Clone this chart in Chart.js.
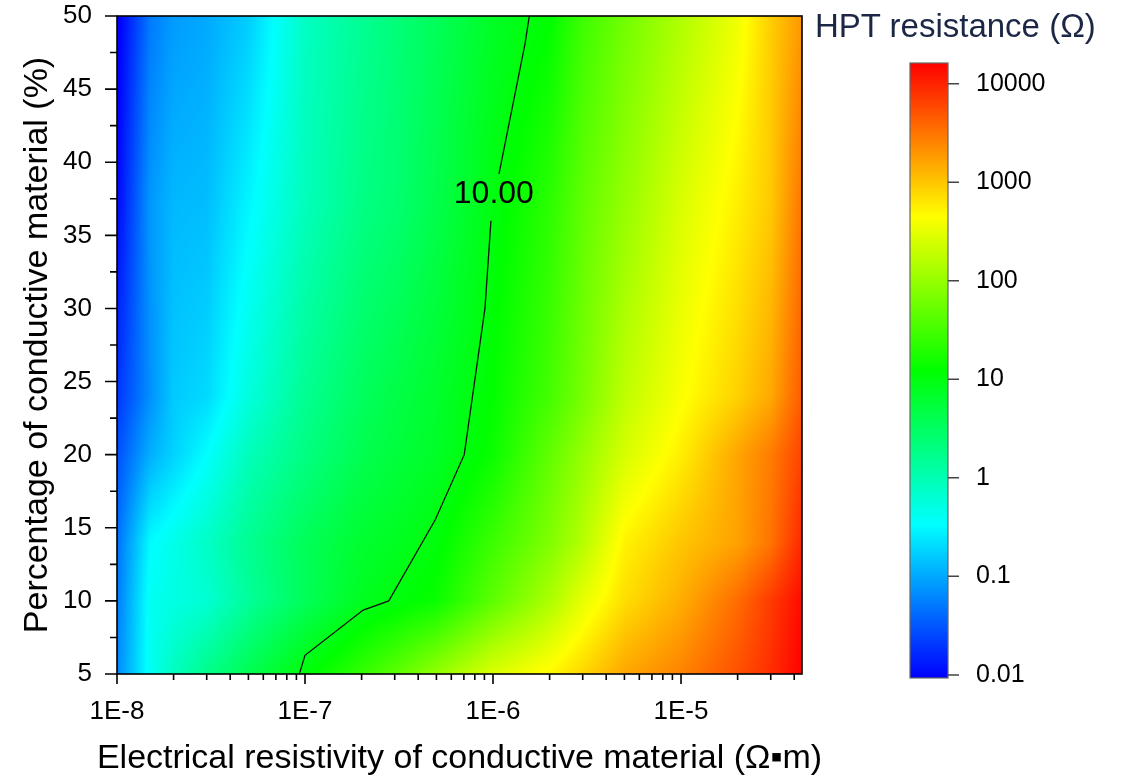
<!DOCTYPE html>
<html><head><meta charset="utf-8">
<script src="https://cdn.jsdelivr.net/npm/chart.js@4.4.1/dist/chart.umd.min.js"></script>
<style>
html,body{margin:0;padding:0;background:#fff;width:1123px;height:779px;overflow:hidden}
#main{position:absolute;left:0;top:0;width:880px;height:779px}
#cb{position:absolute;left:805px;top:0;width:318px;height:779px}
#cbTitle{position:absolute;left:815px;top:7px;font:33px 'Liberation Sans',Arial,sans-serif;color:#1b2745;white-space:nowrap}
</style></head><body>
<canvas id="main" width="880" height="779"></canvas>
<canvas id="cb" width="318" height="779"></canvas>
<div id="cbTitle">HPT resistance (Ω)</div>
<script>
// ---- data ----
const resistivity = [1e-8,1.5e-8,2e-8,3e-8,5e-8,1e-7,2e-7,3e-7,5e-7,1e-6,2e-6,3e-6,5e-6,1e-5,2e-5,3e-5,4.4e-5];
const percentage = [5,10,14,20,24,37,50];
const res_p5  = [0.063,0.40,0.83,1.78,3.98,10.7,25,44,98,275,500,795,1550,2570,5250,8500,16200];
const res_p10 = [0.052,0.40,0.50,0.63,1.41,3.55,7.9,10.2,14.1,45.7,138,316,708,1410,3550,7080,14100];
const res_p14 = [0.045,0.32,0.46,0.76,1.58,3.55,6.3,7.6,10.7,28.2,74,158,525,1000,1660,3160,9330];
const res_p20 = [0.028,0.11,0.18,0.34,0.89,2.0,4.0,5.2,7.1,14.1,47.9,100,251,562,1580,2820,6310];
const res_p24 = [0.019,0.071,0.16,0.20,0.54,1.58,3.3,4.5,6.6,12.6,31.6,66,178,417,851,1510,4570];
const res_p37 = [0.010,0.079,0.126,0.135,0.30,0.89,1.91,2.51,4.27,10.0,22.4,47.9,100,263,562,955,3160];
const res_p50 = [0.0079,0.051,0.083,0.10,0.166,0.79,1.55,2.24,3.55,7.24,12.0,28.8,60,145,355,891,1910];
const resRows = [res_p5,res_p10,res_p14,res_p20,res_p24,res_p37,res_p50];

const contourRho = [9.33e-8,1.0e-7,2.04e-7,2.79e-7,4.93e-7,7.03e-7,9.06e-7,9.75e-7,null,1.076e-6,1.48e-6,1.56e-6];
const contourPct = [5,6.28,9.37,10,15.55,20,30,36,null,39.2,48.1,50];
const contourLabel = '10.00';
const contourLabelRho = 1.01e-6, contourLabelPct = 37.8;

const xMajorTicks = [1e-8,1e-7,1e-6,1e-5];
const xTickLabels = ['1E-8','1E-7','1E-6','1E-5'];
const xMinorTicks = [2e-8,3e-8,4e-8,5e-8,6e-8,7e-8,8e-8,9e-8,2e-7,3e-7,4e-7,5e-7,6e-7,7e-7,8e-7,9e-7,2e-6,3e-6,4e-6,5e-6,6e-6,7e-6,8e-6,9e-6,2e-5,3e-5,4e-5];
const yMajorTicks = [5,10,15,20,25,30,35,40,45,50];
const yMinorTicks = [7.5,12.5,17.5,22.5,27.5,32.5,37.5,42.5,47.5];
const xTitle = 'Electrical resistivity of conductive material (Ω▪m)';
const yTitle = 'Percentage of conductive material (%)';

const cbTicks = [0.01,0.1,1,10,100,1000,10000];
const cbTickLabels = ['0.01','0.1','1','10','100','1000','10000'];
const cbMin = 0.0093, cbMax = 16200;
const cmapColors = [[0,0,255],[0,255,255],[0,255,0],[255,255,0],[255,0,0]];

// ---- helpers ----
const FONT = "'Liberation Sans', Arial, sans-serif";
Chart.defaults.font.family = FONT;
Chart.defaults.color = '#000';
const lRho = resistivity.map(Math.log10);
const lGrid = resRows.map(r => r.map(Math.log10));
const lMin = Math.log10(cbMin), lMax = Math.log10(cbMax);

function findSeg(arr, v){
  if (v <= arr[0]) return [0, 0];
  const n = arr.length;
  if (v >= arr[n-1]) return [n-2, 1];
  for (let i=0;i<n-1;i++){ if (v <= arr[i+1]) return [i, (v-arr[i])/(arr[i+1]-arr[i])]; }
  return [n-2,1];
}
function sampleLog(lr, p){
  const [i, tx] = findSeg(lRho, lr);
  const [j, ty] = findSeg(percentage, p);
  const a = lGrid[j][i]*(1-tx) + lGrid[j][i+1]*tx;
  const b = lGrid[j+1][i]*(1-tx) + lGrid[j+1][i+1]*tx;
  return a*(1-ty) + b*ty;
}
function colorOf(lz){
  let t = (lz - lMin)/(lMax - lMin);
  t = Math.max(0, Math.min(1, t));
  const s = t*(cmapColors.length-1);
  const k = Math.min(cmapColors.length-2, Math.floor(s));
  const f = s-k;
  const c0 = cmapColors[k], c1 = cmapColors[k+1];
  return [c0[0]+(c1[0]-c0[0])*f, c0[1]+(c1[1]-c0[1])*f, c0[2]+(c1[2]-c0[2])*f];
}
function noPad(s){ s.paddingTop = 0; s.paddingBottom = 0; s.paddingLeft = 0; s.paddingRight = 0; }

const heatmapPlugin = {
  id: 'heatmap',
  beforeDatasetsDraw(chart){
    const {ctx, chartArea: a, scales: {x, y}} = chart;
    const L = Math.round(a.left), T = Math.round(a.top);
    const W = Math.round(a.right) - L, H = Math.round(a.bottom) - T;
    const img = ctx.createImageData(W, H);
    const cols = new Float64Array(W);
    for (let i=0;i<W;i++) cols[i] = Math.log10(x.getValueForPixel(L+i+0.5));
    let o = 0;
    for (let j=0;j<H;j++){
      const p = y.getValueForPixel(T+j+0.5);
      for (let i=0;i<W;i++){
        const c = colorOf(sampleLog(cols[i], p));
        img.data[o++] = c[0]; img.data[o++] = c[1]; img.data[o++] = c[2]; img.data[o++] = 255;
      }
    }
    ctx.putImageData(img, L, T);
  },
  afterDatasetsDraw(chart){
    const {ctx, scales: {x, y}} = chart;
    ctx.save();
    ctx.font = '32px ' + FONT;
    ctx.fillStyle = '#000';
    ctx.textAlign = 'center';
    ctx.textBaseline = 'middle';
    ctx.fillText(contourLabel, x.getPixelForValue(contourLabelRho), y.getPixelForValue(contourLabelPct));
    ctx.restore();
  },
  afterDraw(chart){
    const {ctx, chartArea: a, scales: {x, y}} = chart;
    ctx.save();
    ctx.strokeStyle = '#000';
    ctx.lineWidth = 1.6;
    ctx.strokeRect(a.left, a.top, a.right-a.left, a.bottom-a.top);
    ctx.beginPath();
    xMajorTicks.forEach(v => { const px = x.getPixelForValue(v); ctx.moveTo(px, a.bottom); ctx.lineTo(px, a.bottom+10); });
    xMinorTicks.forEach(v => { const px = x.getPixelForValue(v); ctx.moveTo(px, a.bottom); ctx.lineTo(px, a.bottom+6); });
    yMajorTicks.forEach(v => { const py = y.getPixelForValue(v); ctx.moveTo(a.left, py); ctx.lineTo(a.left-12, py); });
    yMinorTicks.forEach(v => { const py = y.getPixelForValue(v); ctx.moveTo(a.left, py); ctx.lineTo(a.left-7, py); });
    ctx.stroke();
    // x-axis title (drawn without width compression)
    ctx.font = '34px ' + FONT;
    ctx.fillStyle = '#000';
    ctx.textAlign = 'center';
    ctx.textBaseline = 'middle';
    ctx.fillText(xTitle, (a.left + a.right)/2, 759);
    ctx.restore();
  }
};

new Chart(document.getElementById('main'), {
  type: 'scatter',
  data: { datasets: [{
    data: contourRho.map((r, i) => ({x: r, y: contourPct[i]})),
    showLine: true, spanGaps: false, pointRadius: 0, borderColor: '#111', borderWidth: 1.3, tension: 0
  }]},
  options: {
    responsive: false, animation: false, devicePixelRatio: 1,
    layout: { padding: { left: 0, top: 16, right: 78, bottom: 0 } },
    plugins: { legend: {display: false}, tooltip: {enabled: false} },
    scales: {
      x: {
        type: 'logarithmic', min: 1e-8, max: 4.4e-5,
        afterBuildTicks: s => { s.ticks = xMajorTicks.map(v => ({value: v})); },
        afterFit: s => { s.height = 105; noPad(s); },
        grid: {display: false, drawTicks: false}, border: {display: false},
        ticks: { autoSkip: false, maxRotation: 0, padding: 22, font: {size: 26}, color: '#000',
                 callback: (v, i) => xTickLabels[i] },
        title: { display: false }
      },
      y: {
        type: 'linear', min: 5, max: 50,
        ticks: { stepSize: 5, padding: 25, font: {size: 26}, color: '#000' },
        afterFit: s => { s.width = 117; noPad(s); },
        grid: {display: false, drawTicks: false}, border: {display: false},
        title: { display: true, text: yTitle,
                 font: {size: 34}, color: '#000', padding: {top: 17, bottom: 0} }
      }
    }
  },
  plugins: [heatmapPlugin]
});

const colorbarPlugin = {
  id: 'colorbar',
  beforeDraw(chart){
    const {ctx, chartArea: a, scales: {y}} = chart;
    const yTop = y.getPixelForValue(cbMax), yBot = y.getPixelForValue(cbMin);
    const g = ctx.createLinearGradient(0, yBot, 0, yTop);
    cmapColors.forEach((c, k) => {
      const lv = lMin + (lMax-lMin)*k/(cmapColors.length-1);
      const py = y.getPixelForValue(Math.pow(10, lv));
      g.addColorStop((yBot-py)/(yBot-yTop), `rgb(${c[0]},${c[1]},${c[2]})`);
    });
    ctx.save();
    ctx.fillStyle = g;
    ctx.fillRect(a.left, yTop, a.right-a.left, yBot-yTop);
    ctx.strokeStyle = '#666';
    ctx.lineWidth = 1.2;
    ctx.strokeRect(a.left, yTop, a.right-a.left, yBot-yTop);
    ctx.beginPath();
    ctx.strokeStyle = '#444';
    ctx.lineWidth = 1.5;
    cbTicks.forEach(v => { const py = y.getPixelForValue(v); ctx.moveTo(a.right, py); ctx.lineTo(a.right+11, py); });
    ctx.stroke();
    ctx.restore();
  }
};

new Chart(document.getElementById('cb'), {
  type: 'scatter',
  data: { datasets: [] },
  options: {
    responsive: false, animation: false, devicePixelRatio: 1,
    layout: { padding: { left: 105, top: 63, right: 0, bottom: 101 } },
    plugins: { legend: {display: false}, tooltip: {enabled: false} },
    scales: {
      x: { display: false, min: 0, max: 1 },
      y: {
        type: 'logarithmic', position: 'right', min: cbMin, max: cbMax,
        afterBuildTicks: s => { s.ticks = cbTicks.map(v => ({value: v})); },
        afterFit: s => { s.width = 175; noPad(s); },
        grid: {display: false, drawTicks: false}, border: {display: false},
        ticks: { autoSkip: false, padding: 28, font: {size: 25}, color: '#000',
                 callback: (v, i) => cbTickLabels[i] }
      }
    }
  },
  plugins: [colorbarPlugin]
});
</script></body></html>
